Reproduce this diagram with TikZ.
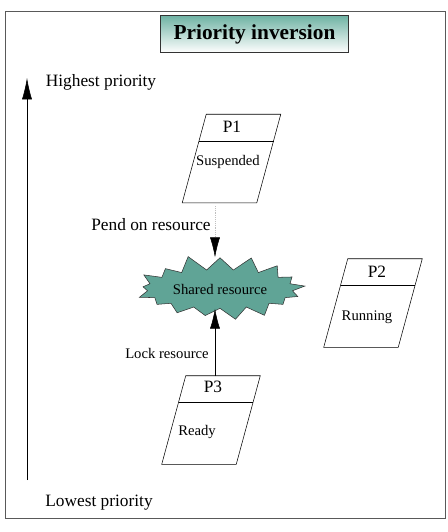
\documentclass[tikz,border=0pt]{standalone}
\usepackage{fontspec}
\setmainfont{Liberation Serif}
\usetikzlibrary{arrows.meta, shapes.symbols, calc}

\definecolor{burstteal}{RGB}{96,164,150}
\definecolor{titleteal}{RGB}{110,178,163}

\begin{document}
\begin{tikzpicture}[x = 0.75pt, y = -0.75pt,
	arr/.style = {-{Latex[length = 15pt, width = 7.5pt]}},
	proc/.style = {minimum width = 55.5pt, minimum height = 66pt, inner sep = 0pt},
	big/.style = {font = \fontsize{13}{15}\selectfont},
	small/.style = {font = \fontsize{11}{13}\selectfont}]

	% Slant of the process boxes
	
	\def\S{9pt}
	
	% Page and frame
	
	\useasboundingbox (0, 0) rectangle (448, 532);
	\draw [gray!70!black] (5, 11) rectangle (445, 518);
	
	% Title
	
	\node [draw = black!80, line width = 1.2pt, top color = titleteal, bottom color = white,
		minimum width = 141pt, minimum height = 28pt, font = \fontsize{16}{18}\selectfont\bfseries]
		(title) at (254.5, 34) {Priority inversion};
	
	% Priority axis
	
	\coordinate (low) at (27, 480);
	\coordinate (high) at (27, 78);
	\draw [-{Latex[length = 16pt, width = 7.5pt]}] (low) -- (high);
	\node [big] (hi) at (101, 82) {Highest priority};
	\node [big] (lo) at (99, 503) {Lowest priority};
	
	% Processes
	
	\node [proc] (p1) at (231.5, 158.5) {};
	\node [proc] (p2) at (373, 303) {};
	\node [proc] (p3) at (211, 420) {};
	
	\foreach \p in {p1, p2, p3} {
		\draw ([xshift = \S] \p.north west) -- ([xshift = \S] \p.north east)
			-- ([xshift = -\S] \p.south east) -- ([xshift = -\S] \p.south west) -- cycle;
		\draw ($([xshift = \S] \p.north west)!0.3!([xshift = -\S] \p.south west)$)
			-- ($([xshift = \S] \p.north east)!0.3!([xshift = -\S] \p.south east)$);
	}
	
	\node [big] (p1name) at (232, 127) {P1};
	\node [small] (p1state) at (228, 162) {Suspended};
	\node [big] (p2name) at (377, 272) {P2};
	\node [small] (p2state) at (367, 317) {Running};
	\node [big] (p3name) at (213, 387) {P3};
	\node [small] (p3state) at (197, 432) {Ready};
	
	% Shared resource
	
	\node [starburst, draw = black!80, fill = burstteal, starburst points = 17,
		starburst point height = 12pt, random starburst = 11, minimum width = 104pt,
		minimum height = 53pt, small] (res) at (220, 289) {Shared resource};
	
	% Pend and lock
	
	\coordinate (pend) at (215, 206);
	\draw [arr, densely dotted, gray!50, -{Latex[black, length = 15pt, width = 7.5pt]}]
		(pend) -- (pend |- res.north);
	\node [big] (pendlabel) at (151, 225) {Pend on resource};
	
	\coordinate (lock) at (215, 376);
	\draw [arr] (lock) -- (lock |- res.south);
	\node [small] (locklabel) at (167, 353) {Lock resource};

\end{tikzpicture}
\end{document}
